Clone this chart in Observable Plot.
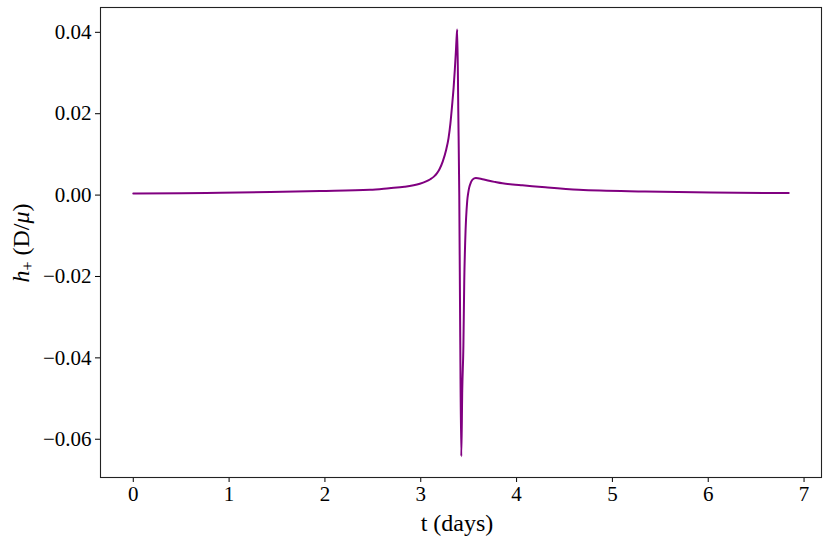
<!DOCTYPE html>
<html>
<head>
<meta charset="utf-8">
<script src="https://cdn.jsdelivr.net/npm/d3@7"></script>
<script src="https://cdn.jsdelivr.net/npm/@observablehq/plot@0.6"></script>
<style>
  html, body { margin: 0; padding: 0; background: #fff; }
  #chart svg { display: block; }
</style>
</head>
<body>
<div id="chart"></div>
<script>
// Time in days
const tValues = [0.000, 0.50, 0.91, 1.43, 1.95, 2.47, 2.67, 2.83, 2.99, 3.05, 3.10, 3.14, 3.17, 3.194, 3.23, 3.264, 3.29,
  3.309, 3.327, 3.343, 3.356, 3.366, 3.375, 3.381, 3.392, 3.402, 3.412, 3.423, 3.433, 3.445, 3.454, 3.464,
  3.485, 3.495, 3.506, 3.523, 3.540, 3.575, 3.644, 3.714, 3.78, 3.852, 3.96, 4.06, 4.30, 4.65, 5.34, 6.03, 6.84];
// h_+ strain in units of D/mu
const hValues = [0.00040, 0.00045, 0.00056, 0.00074, 0.00098, 0.00130, 0.00170, 0.00205, 0.00280, 0.00330, 0.00390, 0.00460, 0.00540, 0.00630, 0.00830, 0.01100, 0.01400,
  0.0175, 0.0220, 0.0264, 0.0310, 0.0350, 0.0390, 0.0407, 0.0200, 0.0000, -0.0350, -0.0642, -0.0480, -0.0370, -0.0210, -0.0113,
  -0.0014, 0.0005, 0.0019, 0.0031, 0.0038, 0.0042, 0.0039, 0.0035, 0.0032, 0.0029, 0.0026, 0.0024, 0.0019, 0.0013, 0.00088, 0.00064, 0.00049];
const xTicks = [0, 1, 2, 3, 4, 5, 6, 7];
const yTicks = [-0.06, -0.04, -0.02, 0.00, 0.02, 0.04];

const data = tValues.map((t, i) => ({t, h: hValues[i]}));

const font = "'Liberation Serif', 'DejaVu Serif', serif";

const plot = Plot.plot({
  width: 831,
  height: 544,
  marginLeft: 100,
  marginRight: 10,
  marginTop: 7,
  marginBottom: 67,
  style: {fontFamily: font, fontSize: "20px", color: "#000", background: "#fff"},
  x: {domain: [-0.342, 7.182]},
  y: {domain: [-0.0694, 0.0461]},
  marks: [
    Plot.axisX({ticks: xTicks, tickSize: 5, tickPadding: 4, tickFormat: d3.format("d"), label: null, fontSize: 21}),
    Plot.axisY({ticks: yTicks, tickSize: 5, tickPadding: 4, tickFormat: d3.format(".2f"), label: null, fontSize: 21}),
    Plot.line(data, {x: "t", y: "h", stroke: "#800080", strokeWidth: 2, curve: "monotone-x"}),
    Plot.frame({stroke: "#222", strokeWidth: 1.1})
  ]
});

const svg = d3.select(plot);
svg.append("text")
  .attr("x", 457).attr("y", 531)
  .attr("text-anchor", "middle")
  .attr("font-family", font).attr("font-size", 24).attr("fill", "#000")
  .text("t (days)");

const yl = svg.append("text")
  .attr("transform", "translate(29,243) rotate(-90)")
  .attr("text-anchor", "middle")
  .attr("font-family", font).attr("font-size", 24).attr("fill", "#000");
yl.append("tspan").attr("font-style", "italic").text("h");
yl.append("tspan").attr("font-size", 16).attr("dy", 4).text("+");
yl.append("tspan").attr("dy", -4).text(" (D/");
yl.append("tspan").attr("font-style", "italic").text("μ");
yl.append("tspan").text(")");

document.getElementById("chart").appendChild(plot);
</script>
</body>
</html>
